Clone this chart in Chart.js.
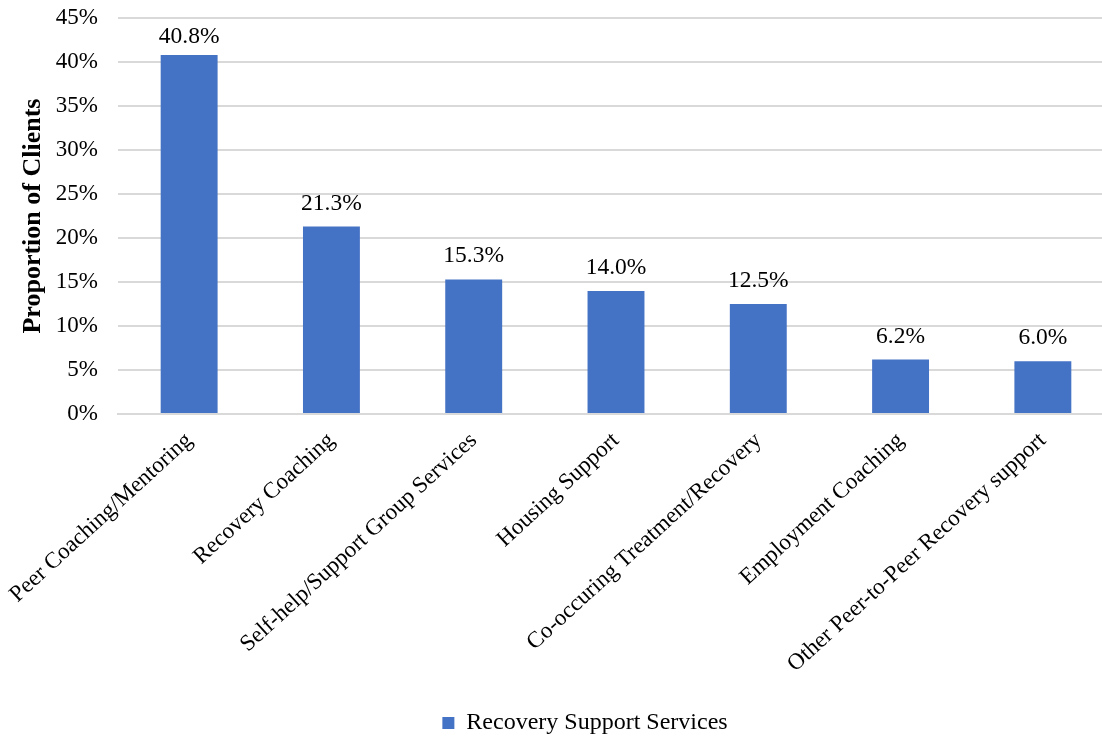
<!DOCTYPE html>
<html>
<head>
<meta charset="utf-8">
<script src="https://cdn.jsdelivr.net/npm/chart.js@4.4.0/dist/chart.umd.min.js"></script>
<style>
  html, body { margin: 0; padding: 0; background: #fff; overflow: hidden; }
  #wrap { width: 1114px; height: 737px; }
</style>
</head>
<body>
<div id="wrap"><canvas id="myChart"></canvas></div>
<script>
// categories and values
var services = [
    "Peer Coaching/Mentoring",
    "Recovery Coaching",
    "Self-help/Support Group Services",
    "Housing Support",
    "Co-occuring Treatment/Recovery",
    "Employment Coaching",
    "Other Peer-to-Peer Recovery support"
];
var proportions = [40.8, 21.3, 15.3, 14.0, 12.5, 6.2, 6.0];
var seriesName = "Recovery Support Services";
var yTicks = [0, 5, 10, 15, 20, 25, 30, 35, 40, 45];

var serif = "'Liberation Serif', 'Times New Roman', serif";
var barColor = "#4472C4";

// value labels over the bars (kept inside the plot at the top)
const valueLabels = {
    id: 'valueLabels',
    afterDatasetsDraw: function (chart) {
        const ctx = chart.ctx;
        const meta = chart.getDatasetMeta(0);
        const minY = chart.chartArea.top + 25;
        ctx.save();
        ctx.font = "23.5px " + serif;
        ctx.fillStyle = "#000";
        ctx.textAlign = "center";
        ctx.textBaseline = "alphabetic";
        meta.data.forEach(function (bar, i) {
            const y = Math.max(bar.y - 17, minY);
            ctx.fillText(proportions[i].toFixed(1) + "%", bar.x, y);
        });
        ctx.restore();
    }
};

// the legend sits right of the canvas centre in the original
const legendShift = {
    id: 'legendShift',
    afterLayout: function (chart) {
        chart.legend.left += 28;
        chart.legend.right += 28;
    }
};

new Chart("myChart", {
    type: "bar",
    data: {
        labels: services,
        datasets: [{
            label: seriesName,
            data: proportions,
            backgroundColor: barColor,
            barPercentage: 0.4,
            categoryPercentage: 1.0
        }]
    },
    options: {
        responsive: true,
        maintainAspectRatio: false,
        animation: false,
        layout: { padding: { top: 0, right: 0, bottom: -8, left: 0 } },
        plugins: {
            legend: {
                position: "bottom",
                labels: {
                    font: { family: serif, size: 24 },
                    color: "#000",
                    boxWidth: 12,
                    boxHeight: 12,
                    padding: 3
                }
            },
            tooltip: { enabled: false }
        },
        scales: {
            x: {
                afterFit: function (scale) { scale.height += 25; },
                grid: { display: false },
                border: { display: true, color: "#d9d9d9", width: 2 },
                ticks: {
                    font: { family: serif, size: 23 },
                    color: "#000",
                    minRotation: 42.5,
                    maxRotation: 42.5,
                    autoSkip: false,
                    padding: 5
                }
            },
            y: {
                min: 0,
                max: 45,
                afterBuildTicks: function (scale) {
                    scale.ticks = yTicks.map(function (v) { return { value: v }; });
                },
                afterFit: function (scale) {
                    scale.width = 118;
                    scale.paddingTop = 18;
                    scale.paddingBottom = 10;
                },
                grid: { color: "#d9d9d9", lineWidth: 2, drawTicks: false },
                border: { display: false },
                ticks: {
                    font: { family: serif, size: 23 },
                    color: "#000",
                    padding: 20,
                    callback: function (v) { return v + "%"; }
                },
                title: {
                    display: true,
                    text: "Proportion of Clients",
                    font: { family: serif, size: 26, weight: "bold" },
                    color: "#000",
                    padding: { top: 18, bottom: 0 }
                }
            }
        }
    },
    plugins: [valueLabels, legendShift]
});
</script>
</body>
</html>
